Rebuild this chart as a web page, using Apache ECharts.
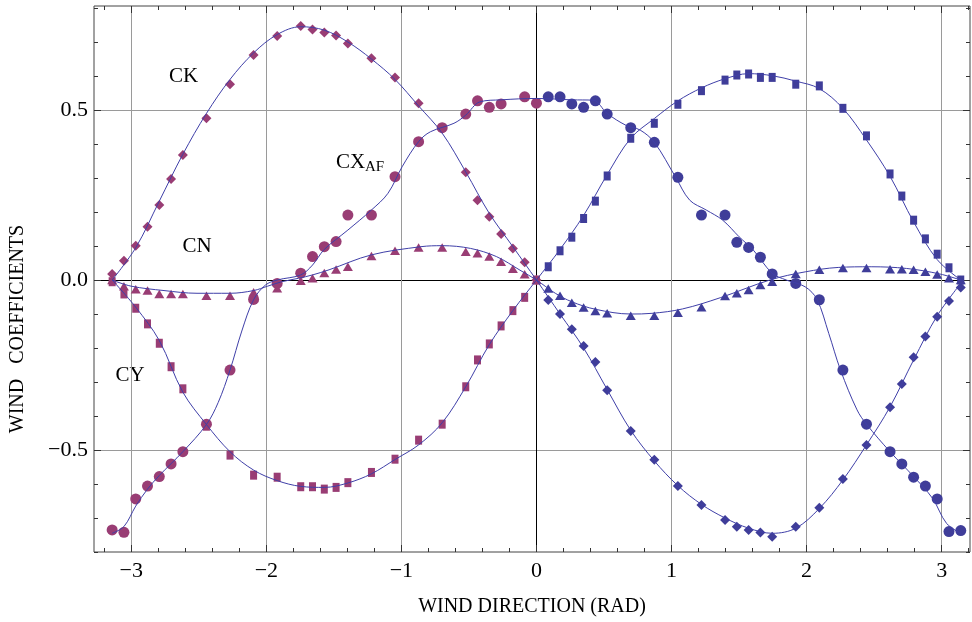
<!DOCTYPE html>
<html><head><meta charset="utf-8">
<script src="https://cdn.jsdelivr.net/npm/echarts@6/dist/echarts.min.js"></script>
<style>html,body{margin:0;padding:0;background:#fff}#c{width:972px;height:622px}</style>
</head><body><div id="c"></div>
<script>
// Wind direction of each measured point, in degrees (plotted in radians)
const anglesDeg = [-180,-175,-170,-165,-160,-155,-150,-140,-130,-120,-110,-100,-95,-90,-85,-80,-70,-60,-50,-40,-30,-25,-20,-15,-10,-5,0,
                   5,10,15,20,25,30,40,50,60,70,80,85,90,95,100,110,120,130,140,150,155,160,165,170,175,180];
const ckValues = [0.018,0.057,0.101,0.157,0.221,0.297,0.368,0.476,0.576,0.662,0.718,0.747,0.737,0.728,0.719,0.696,0.652,0.596,0.520,0.445,0.317,0.235,0.186,0.135,0.093,0.052,0.0,
                  -0.059,-0.100,-0.145,-0.194,-0.241,-0.324,-0.444,-0.529,-0.606,-0.662,-0.706,-0.726,-0.735,-0.743,-0.755,-0.726,-0.670,-0.585,-0.485,-0.374,-0.306,-0.227,-0.166,-0.108,-0.062,-0.022];
const cxValues = [-0.735,-0.742,-0.644,-0.606,-0.578,-0.541,-0.505,-0.424,-0.265,-0.057,-0.010,0.020,0.069,0.098,0.113,0.191,0.191,0.304,0.407,0.448,0.488,0.527,0.508,0.518,null,0.539,0.520,
                  0.539,0.539,0.518,0.508,0.527,0.488,0.448,0.405,0.302,0.191,0.191,0.111,0.096,0.067,0.018,-0.010,-0.058,-0.265,-0.424,-0.505,-0.541,-0.580,-0.606,-0.644,-0.740,-0.737];
const cnValues = [0.0,-0.018,-0.027,-0.031,-0.041,-0.041,-0.041,-0.046,-0.046,-0.036,-0.024,-0.002,0.005,0.021,0.031,0.039,0.071,0.086,0.096,0.096,0.083,0.079,0.069,0.054,0.033,0.017,0.0,
                  -0.025,-0.046,-0.067,-0.081,-0.091,-0.098,-0.105,-0.105,-0.096,-0.080,-0.047,-0.039,-0.029,-0.015,-0.005,0.018,0.030,0.035,0.035,0.032,0.032,0.030,0.024,0.016,0.005,0.0];
const cyValues = [-0.005,-0.041,-0.083,-0.129,-0.186,-0.255,-0.320,-0.430,-0.515,-0.574,-0.580,-0.608,-0.608,-0.615,-0.610,-0.596,-0.566,-0.527,-0.471,-0.424,-0.314,-0.235,-0.188,-0.135,-0.090,-0.051,0.0,
                  0.039,0.086,0.126,0.181,0.232,0.306,0.417,0.461,0.517,0.557,0.588,0.603,0.606,0.596,0.596,0.576,0.571,0.505,0.424,0.312,0.247,0.176,0.121,0.076,0.036,0.0];

// Fitted curves (degrees -> value)
const ckCurveDeg = [-180,-170,-160,-150,-140,-130,-120,-110,-100,-90,-80,-70,-60,-50,-40,-30,-20,-10,0,10,20,30,40,50,60,70,80,90,100,110,120,130,140,150,160,170,180];
const ckCurve    = [0.0,0.095,0.232,0.370,0.490,0.590,0.668,0.722,0.745,0.735,0.700,0.650,0.590,0.512,0.432,0.318,0.196,0.098,0.0,-0.100,-0.200,-0.322,-0.442,-0.532,-0.605,-0.660,-0.700,-0.730,-0.745,-0.730,-0.672,-0.588,-0.485,-0.373,-0.235,-0.105,-0.010];
const cxCurveDeg = [-180,-175,-170,-165,-160,-150,-140,-135,-130,-125,-120,-115,-110,-100,-95,-90,-80,-70,-63,-57,-50,-45,-35,-30,-24,-15,0,15,24,30,38,44,50,59,65,72,79,86,92,100,106,114,119,124,129,136,140,150,160,168,174,180];
const cxCurve    = [-0.745,-0.725,-0.665,-0.615,-0.575,-0.505,-0.425,-0.360,-0.265,-0.150,-0.058,-0.015,0.0,0.015,0.044,0.090,0.147,0.206,0.255,0.333,0.407,0.436,0.461,0.485,0.524,0.530,0.534,0.530,0.529,0.490,0.455,0.441,0.405,0.303,0.235,0.206,0.176,0.127,0.088,0.020,0.0,-0.020,-0.057,-0.157,-0.265,-0.382,-0.424,-0.505,-0.578,-0.642,-0.716,-0.745];
const cnCurveDeg = [-180,-172,-158,-144,-130,-120,-114,-108,-101,-95,-88,-70,-49,-40,-28,-17,-7,0,8,15,25,40,49,62,78,99,114,128,142,157,171,180];
const cnCurve    = [0.0,-0.018,-0.031,-0.039,-0.039,-0.031,-0.018,-0.005,0.005,0.015,0.030,0.074,0.098,0.101,0.093,0.069,0.029,0.0,-0.039,-0.064,-0.086,-0.100,-0.098,-0.085,-0.052,0.0,0.024,0.037,0.039,0.034,0.018,0.0];
const cyCurveDeg = [-180,-170,-160,-150,-140,-130,-120,-110,-100,-90,-80,-70,-60,-50,-40,-30,-20,-10,0,10,20,30,40,50,60,70,80,90,100,110,120,130,140,150,160,170,180];
const cyCurve    = [0.0,-0.080,-0.178,-0.330,-0.425,-0.505,-0.559,-0.590,-0.607,-0.610,-0.597,-0.570,-0.528,-0.485,-0.420,-0.314,-0.190,-0.090,0.0,0.090,0.190,0.310,0.417,0.475,0.527,0.565,0.592,0.607,0.601,0.585,0.563,0.505,0.412,0.305,0.171,0.060,0.0];

// Axis ticks and labels
const xTicks = [-3,-2,-1,0,1,2,3];
const xTickLabels = ['\u22123','\u22122','\u22121','0','1','2','3'];
const xMinorTicks = [-3.2,-3.0,-2.8,-2.6,-2.4,-2.2,-2.0,-1.8,-1.6,-1.4,-1.2,-1.0,-0.8,-0.6,-0.4,-0.2,0,0.2,0.4,0.6,0.8,1.0,1.2,1.4,1.6,1.8,2.0,2.2,2.4,2.6,2.8,3.0,3.2];
const yTicks = [-0.5,0,0.5];
const yTickLabels = ['\u22120.5','0.0','0.5'];
const yMinorTicks = [-0.8,-0.7,-0.6,-0.5,-0.4,-0.3,-0.2,-0.1,0,0.1,0.2,0.3,0.4,0.5,0.6,0.7,0.8];

const X_MIN = -3.276, X_MAX = 3.21, Y_MIN = -0.8, Y_MAX = 0.806;
const PURPLE = '#993d74', BLUE = '#3f3d99', LINE = '#3f3fa8';
const FONT = 'Liberation Serif';
const rad = d => d * Math.PI / 180;

function points(vals, left) {
  const out = [];
  anglesDeg.forEach((a, i) => {
    if (vals[i] === null) return;
    if (left ? a <= 0 : a > 0) out.push([rad(a), vals[i]]);
  });
  return out;
}
function curve(degs, vals) { return degs.map((a, i) => [rad(a), vals[i]]); }

const markers = [
  {name: 'CK', vals: ckValues, symbol: 'diamond', size: [10, 10]},
  {name: 'CY', vals: cyValues, symbol: 'rect', size: [7, 9]},
  {name: 'CN', vals: cnValues, symbol: 'triangle', size: [10, 8.5]},
  {name: 'CX', vals: cxValues, symbol: 'circle', size: 11}
];
const curves = [[ckCurveDeg, ckCurve], [cxCurveDeg, cxCurve], [cnCurveDeg, cnCurve], [cyCurveDeg, cyCurve]];

const series = [];
markers.forEach((m, k) => {
  [true, false].forEach(left => {
    series.push({
      type: 'scatter', name: m.name, data: points(m.vals, left),
      symbol: m.symbol, symbolSize: m.size, z: 2 + k * 0.1,
      itemStyle: {color: left ? PURPLE : BLUE, opacity: 1},
      emphasis: {disabled: true}, silent: true
    });
  });
});
curves.forEach(c => {
  series.push({
    type: 'line', data: curve(c[0], c[1]), showSymbol: false, smooth: 0.35,
    lineStyle: {color: LINE, width: 1}, z: 5, silent: true
  });
});

const tickStyle = {color: '#333', width: 1};
function xAxisDef(pos, major) {
  return {
    type: 'value', min: X_MIN, max: X_MAX, position: pos,
    axisLine: {show: false, onZero: false},
    axisTick: {show: true, inside: true, length: major ? 7 : 4, customValues: major ? xTicks : xMinorTicks, lineStyle: tickStyle},
    axisLabel: {show: major && pos === 'bottom', customValues: xTicks, margin: 8,
      fontFamily: FONT, fontSize: 22, color: '#000',
      formatter: v => { const i = xTicks.indexOf(v); return i >= 0 ? xTickLabels[i] : ''; }},
    splitLine: {show: major && pos === 'bottom', lineStyle: {color: ['#9a9a9a','#9a9a9a','#9a9a9a','#000','#9a9a9a','#9a9a9a','#9a9a9a'], width: 1}},
    name: major && pos === 'bottom' ? 'WIND DIRECTION (RAD)' : '',
    nameLocation: 'middle', nameGap: 45,
    nameTextStyle: {fontFamily: FONT, fontSize: 20, color: '#000'}
  };
}
function yAxisDef(pos, major) {
  return {
    type: 'value', min: Y_MIN, max: Y_MAX, position: pos,
    axisLine: {show: false, onZero: false},
    axisTick: {show: true, inside: true, length: major ? 7 : 4, customValues: major ? yTicks : yMinorTicks, lineStyle: tickStyle},
    axisLabel: {show: major && pos === 'left', customValues: yTicks, margin: 6,
      fontFamily: FONT, fontSize: 22, color: '#000',
      formatter: v => { const i = yTicks.indexOf(v); return i >= 0 ? yTickLabels[i] : ''; }},
    splitLine: {show: major && pos === 'left', lineStyle: {color: ['#9a9a9a','#000','#9a9a9a'], width: 1}},
    name: major && pos === 'left' ? 'WIND   COEFFICIENTS' : '',
    nameLocation: 'middle', nameGap: 66,
    nameTextStyle: {fontFamily: FONT, fontSize: 20, color: '#000', padding: [0, 100, 0, 0]}
  };
}

const chart = echarts.init(document.getElementById('c'), null, {renderer: 'canvas'});
chart.setOption({
  animation: false,
  backgroundColor: '#fff',
  grid: {left: 94, right: 2, top: 6, bottom: 70, show: true, borderColor: '#444', borderWidth: 1, backgroundColor: 'transparent'},
  xAxis: [xAxisDef('bottom', true), xAxisDef('bottom', false), xAxisDef('top', true), xAxisDef('top', false)],
  yAxis: [yAxisDef('left', true), yAxisDef('left', false), yAxisDef('right', true), yAxisDef('right', false)],
  series: series,
  graphic: [
    {type: 'text', x: 183.5, y: 76.5, style: {text: 'CK', font: '21px "Liberation Serif"', fill: '#000', align: 'center', verticalAlign: 'middle'}, silent: true},
    {type: 'text', x: 336, y: 162.5, style: {text: 'CX', font: '21px "Liberation Serif"', fill: '#000', align: 'left', verticalAlign: 'middle'}, silent: true},
    {type: 'text', x: 365, y: 167, style: {text: 'AF', font: '15px "Liberation Serif"', fill: '#000', align: 'left', verticalAlign: 'middle'}, silent: true},
    {type: 'text', x: 197, y: 246, style: {text: 'CN', font: '21px "Liberation Serif"', fill: '#000', align: 'center', verticalAlign: 'middle'}, silent: true},
    {type: 'text', x: 130, y: 375, style: {text: 'CY', font: '21px "Liberation Serif"', fill: '#000', align: 'center', verticalAlign: 'middle'}, silent: true}
  ]
});
</script></body></html>
